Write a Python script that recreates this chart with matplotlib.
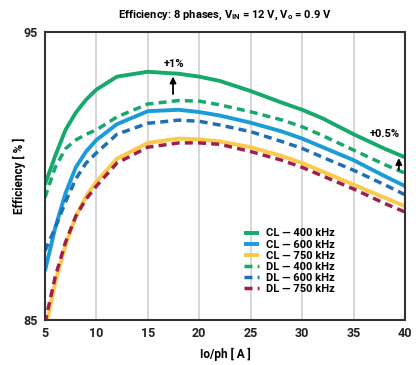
import matplotlib.pyplot as plt
import numpy as np

plt.rcParams['font.family'] = ['Roboto', 'DejaVu Sans']
plt.rcParams['mathtext.fontset'] = 'custom'
plt.rcParams['mathtext.rm'] = 'Roboto'
plt.rcParams['mathtext.bf'] = 'Roboto:bold'

# --- data ---
io_ph = [5, 6, 7, 8, 9, 10, 12, 15, 18, 20, 22, 25, 28, 30, 32, 35, 38, 40]

cl_400 = [89.7, 90.7, 91.6, 92.2, 92.65, 93.0, 93.45, 93.62, 93.55, 93.45, 93.3, 92.95, 92.55, 92.3, 92.0, 91.45, 90.95, 90.65]
cl_600 = [86.7, 88.2, 89.4, 90.3, 90.85, 91.25, 91.8, 92.25, 92.3, 92.22, 92.1, 91.85, 91.55, 91.3, 91.0, 90.55, 90.0, 89.65]
cl_750 = [84.6, 86.3, 87.6, 88.6, 89.3, 89.8, 90.6, 91.15, 91.3, 91.27, 91.2, 91.0, 90.7, 90.45, 90.15, 89.7, 89.25, 88.95]
dl_400 = [89.25, 90.3, 90.95, 91.25, 91.45, 91.6, 92.05, 92.5, 92.62, 92.6, 92.47, 92.23, 91.95, 91.71, 91.4, 90.9, 90.4, 90.1]
dl_600 = [87.4, 88.2, 89.1, 89.9, 90.45, 90.8, 91.45, 91.83, 91.94, 91.9, 91.77, 91.54, 91.2, 90.96, 90.65, 90.2, 89.7, 89.35]
dl_750 = [84.9, 86.5, 87.7, 88.6, 89.2, 89.65, 90.45, 91.0, 91.15, 91.15, 91.1, 90.85, 90.55, 90.3, 90.0, 89.55, 89.05, 88.75]

labels = ['CL — 400 kHz', 'CL — 600 kHz', 'CL — 750 kHz',
          'DL — 400 kHz', 'DL — 600 kHz', 'DL — 750 kHz']
series = [cl_400, cl_600, cl_750, dl_400, dl_600, dl_750]
colors = ['#17a96c', '#1a9cd8', '#fcc94a', '#17a96c', '#1e6fb4', '#9f1f4a']
styles = ['-', '-', '-', '--', '--', '--']

# --- plot ---
fig = plt.figure(figsize=(4.16, 3.65), dpi=100)
ax = fig.add_axes([0.108, 0.1233, 0.8656, 0.789])

for y, c, ls, lab in zip(series, colors, styles, labels):
    if ls == '-':
        ax.plot(io_ph, y, color=c, linestyle=ls, linewidth=2.8, label=lab,
                solid_capstyle='butt')
    else:
        ax.plot(io_ph, y, color=c, linestyle=(0, (2.3, 1.5)), linewidth=2.5,
                label=lab)

ax.set_xlim(5, 40)
ax.set_ylim(85, 95)
ax.set_xticks([5, 10, 15, 20, 25, 30, 35, 40])
ax.set_yticks([85, 95])
ax.tick_params(length=0, labelsize=9, pad=5)
for t in ax.get_xticklabels() + ax.get_yticklabels():
    t.set_fontweight('bold')
    t.set_color('#222222')

ax.grid(True, axis='x', color='#d4d4d4', linewidth=1.3)
ax.set_axisbelow(True)
for s in ax.spines.values():
    s.set_linewidth(1.5)
    s.set_color('#333333')

ax.set_title('Efficiency: 8 phases, V$_{\\mathbf{IN}}$ = 12 V, V$_{\\mathbf{o}}$ = 0.9 V',
             fontsize=8, fontweight='bold', pad=10)
ax.set_xlabel('Io/ph [ A ]', fontsize=8.5, fontweight='bold', labelpad=6)
ax.set_ylabel('Efficiency [ % ]', fontsize=8.5, fontweight='bold', labelpad=-2)

# annotations
ax.annotate('', xy=(17.45, 93.55), xytext=(17.45, 92.75),
            arrowprops=dict(arrowstyle='-|>', color='black', lw=1.3, mutation_scale=9))
ax.text(17.6, 93.9, '+1%', fontsize=8, fontweight='bold', ha='center', va='center')
ax.annotate('', xy=(39.4, 90.72), xytext=(39.4, 90.12),
            arrowprops=dict(arrowstyle='-|>', color='black', lw=1.3, mutation_scale=9))
ax.text(38.0, 91.46, '+0.5%', fontsize=8, fontweight='bold', ha='center', va='center')

leg = ax.legend(loc='upper left', bbox_to_anchor=(0.53, 0.345), frameon=False,
                fontsize=8, handlelength=1.4, handletextpad=0.6,
                labelspacing=0.1, borderpad=0.2)
for t in leg.get_texts():
    t.set_fontweight('bold')

plt.savefig('out.png', dpi=100)
